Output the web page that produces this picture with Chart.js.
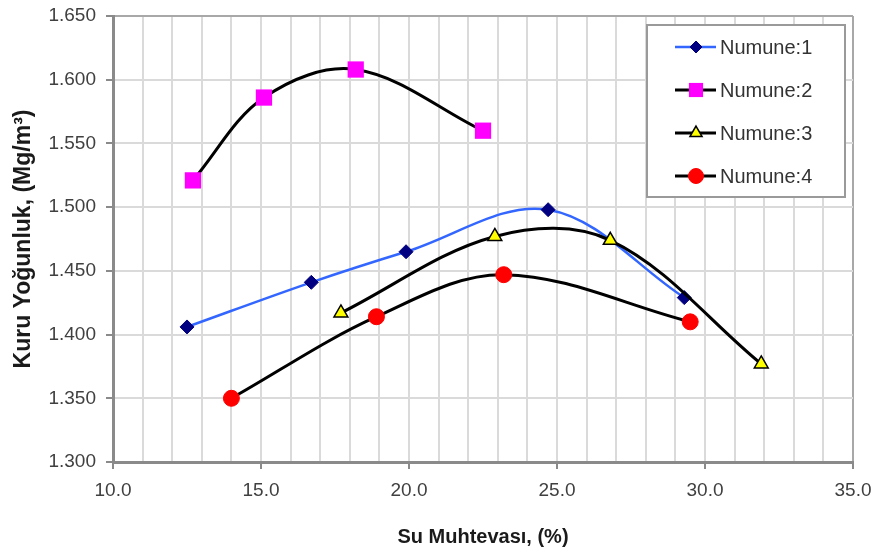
<!DOCTYPE html>
<html>
<head>
<meta charset="utf-8">
<script src="https://cdn.jsdelivr.net/npm/chart.js@4/dist/chart.umd.min.js"></script>
<style>
  html, body { margin: 0; padding: 0; background: #fff; }
  #wrap { width: 878px; height: 553px; }
</style>
</head>
<body>
<div id="wrap"><canvas id="chart" width="878" height="553"></canvas></div>
<script>
// Kuru yoğunluk - su muhtevası eğrileri
const seriesNames = ['Numune:1', 'Numune:2', 'Numune:3', 'Numune:4'];

const n1Water = [12.5, 16.7, 19.9, 24.7, 29.3];
const n1Density = [1.406, 1.441, 1.465, 1.498, 1.429];

const n2Water = [12.7, 15.1, 18.2, 22.5];
const n2Density = [1.521, 1.586, 1.608, 1.560];

const n3Water = [17.7, 22.9, 26.8, 31.9];
const n3Density = [1.417, 1.477, 1.474, 1.377];

const n4Water = [14.0, 18.9, 23.2, 29.5];
const n4Density = [1.350, 1.414, 1.447, 1.410];

const xMin = 10, xMax = 35, xStep = 1, xLabelEvery = 5;
const yMin = 1.3, yMax = 1.65, yStep = 0.05;

const xTitle = 'Su Muhtevası, (%)';
const yTitle = 'Kuru Yoğunluk, (Mg/m³)';

function pairs(xs, ys) {
  return xs.map((x, i) => ({ x: x, y: ys[i] }));
}

const styles = [
  { line: '#3366ff', width: 2.5, point: 'rectRot', r: 7, fill: '#000080', edge: '#000080', edgeW: 1, lr: 6 },
  { line: '#000000', width: 3, point: 'rect', r: 11.5, fill: '#ff00ff', edge: '#ff00ff', edgeW: 0, lr: 10 },
  { line: '#000000', width: 3, point: 'triangle', r: 8, fill: '#ffff00', edge: '#000000', edgeW: 1.5, lr: 7 },
  { line: '#000000', width: 3, point: 'circle', r: 8, fill: '#ff0000', edge: '#ff0000', edgeW: 1, lr: 7.5 }
];

const rawData = [
  pairs(n1Water, n1Density),
  pairs(n2Water, n2Density),
  pairs(n3Water, n3Density),
  pairs(n4Water, n4Density)
];

const datasets = rawData.map((d, i) => ({
  label: seriesNames[i],
  data: d,
  borderColor: styles[i].line,
  borderWidth: styles[i].width,
  tension: 0.35,
  pointStyle: styles[i].point,
  pointRadius: styles[i].r,
  pointHoverRadius: styles[i].r,
  pointBackgroundColor: styles[i].fill,
  pointBorderColor: styles[i].edge,
  pointBorderWidth: styles[i].edgeW,
  order: 4 - i,
  fill: false
}));

// legend box drawn inside the plot, top right
const boxLegend = {
  id: 'boxLegend',
  afterDraw(chart) {
    const ctx = chart.ctx;
    const area = chart.chartArea;
    const bx = area.right - 206, by = area.top + 9, bw = 198, bh = 172;
    ctx.save();
    ctx.fillStyle = '#fff';
    ctx.fillRect(bx, by, bw, bh);
    ctx.strokeStyle = '#9a9a9a';
    ctx.lineWidth = 2;
    ctx.strokeRect(bx, by, bw, bh);

    seriesNames.forEach((name, i) => {
      const s = styles[i];
      const y = by + 22 + i * 43;
      ctx.beginPath();
      ctx.strokeStyle = s.line;
      ctx.lineWidth = s.width;
      ctx.moveTo(bx + 28, y);
      ctx.lineTo(bx + 69, y);
      ctx.stroke();

      ctx.fillStyle = s.fill;
      ctx.strokeStyle = s.edge;
      ctx.lineWidth = s.edgeW;
      Chart.helpers.drawPoint(ctx, { pointStyle: s.point, radius: s.lr, rotation: 0, borderWidth: s.edgeW }, bx + 49, y);

      ctx.fillStyle = '#333';
      ctx.font = '20px Arial, "Liberation Sans", sans-serif';
      ctx.textAlign = 'left';
      ctx.textBaseline = 'middle';
      ctx.fillText(name, bx + 73, y + 1);
    });
    ctx.restore();
  }
};

const tickFont = { family: 'Arial, "Liberation Sans", sans-serif', size: 19 };

new Chart(document.getElementById('chart'), {
  type: 'line',
  data: { datasets: datasets },
  options: {
    responsive: false,
    devicePixelRatio: 1,
    animation: false,
    layout: { padding: { top: 16, right: 25, left: 0, bottom: 0 } },
    plugins: {
      legend: { display: false },
      tooltip: { enabled: false }
    },
    scales: {
      x: {
        type: 'linear',
        min: xMin,
        max: xMax,
        afterFit(scale) {
          scale.height = 91;
          scale.paddingLeft = 0;
          scale.paddingRight = 0;
        },
        ticks: {
          stepSize: xStep,
          autoSkip: false,
          maxRotation: 0,
          padding: 10,
          color: '#404040',
          font: tickFont,
          callback: v => (v % xLabelEvery === 0 ? v.toFixed(1) : '')
        },
        grid: {
          color: c => (c.tick && c.tick.value === xMax ? '#a8a8a8' : '#dadada'),
          lineWidth: 2,
          tickLength: 7,
          tickWidth: 2,
          tickColor: c => (c.tick && c.tick.value % xLabelEvery === 0 ? '#8a8a8a' : 'rgba(0,0,0,0)')
        },
        border: { display: true, color: '#8a8a8a', width: 3 },
        title: {
          display: true,
          text: xTitle,
          color: '#1a1a1a',
          font: { family: 'Arial, "Liberation Sans", sans-serif', size: 20, weight: 'bold' },
          padding: { top: 0, bottom: 4 }
        }
      },
      y: {
        min: yMin,
        max: yMax,
        afterFit(scale) {
          scale.width = 113;
          scale.paddingTop = 0;
          scale.paddingBottom = 0;
        },
        ticks: {
          stepSize: yStep,
          padding: 10,
          color: '#404040',
          font: tickFont,
          callback: v => v.toFixed(3)
        },
        grid: {
          color: c => (c.tick && Math.abs(c.tick.value - yMax) < 1e-6 ? '#a8a8a8' : '#dadada'),
          lineWidth: 2,
          tickLength: 7,
          tickWidth: 2,
          tickColor: '#8a8a8a'
        },
        border: { display: true, color: '#8a8a8a', width: 3 },
        title: {
          display: true,
          text: yTitle,
          color: '#1a1a1a',
          font: { family: 'Arial, "Liberation Sans", sans-serif', size: 23, weight: 'bold' },
          padding: { top: 10, bottom: 0 }
        }
      }
    }
  },
  plugins: [boxLegend]
});
</script>
</body>
</html>
